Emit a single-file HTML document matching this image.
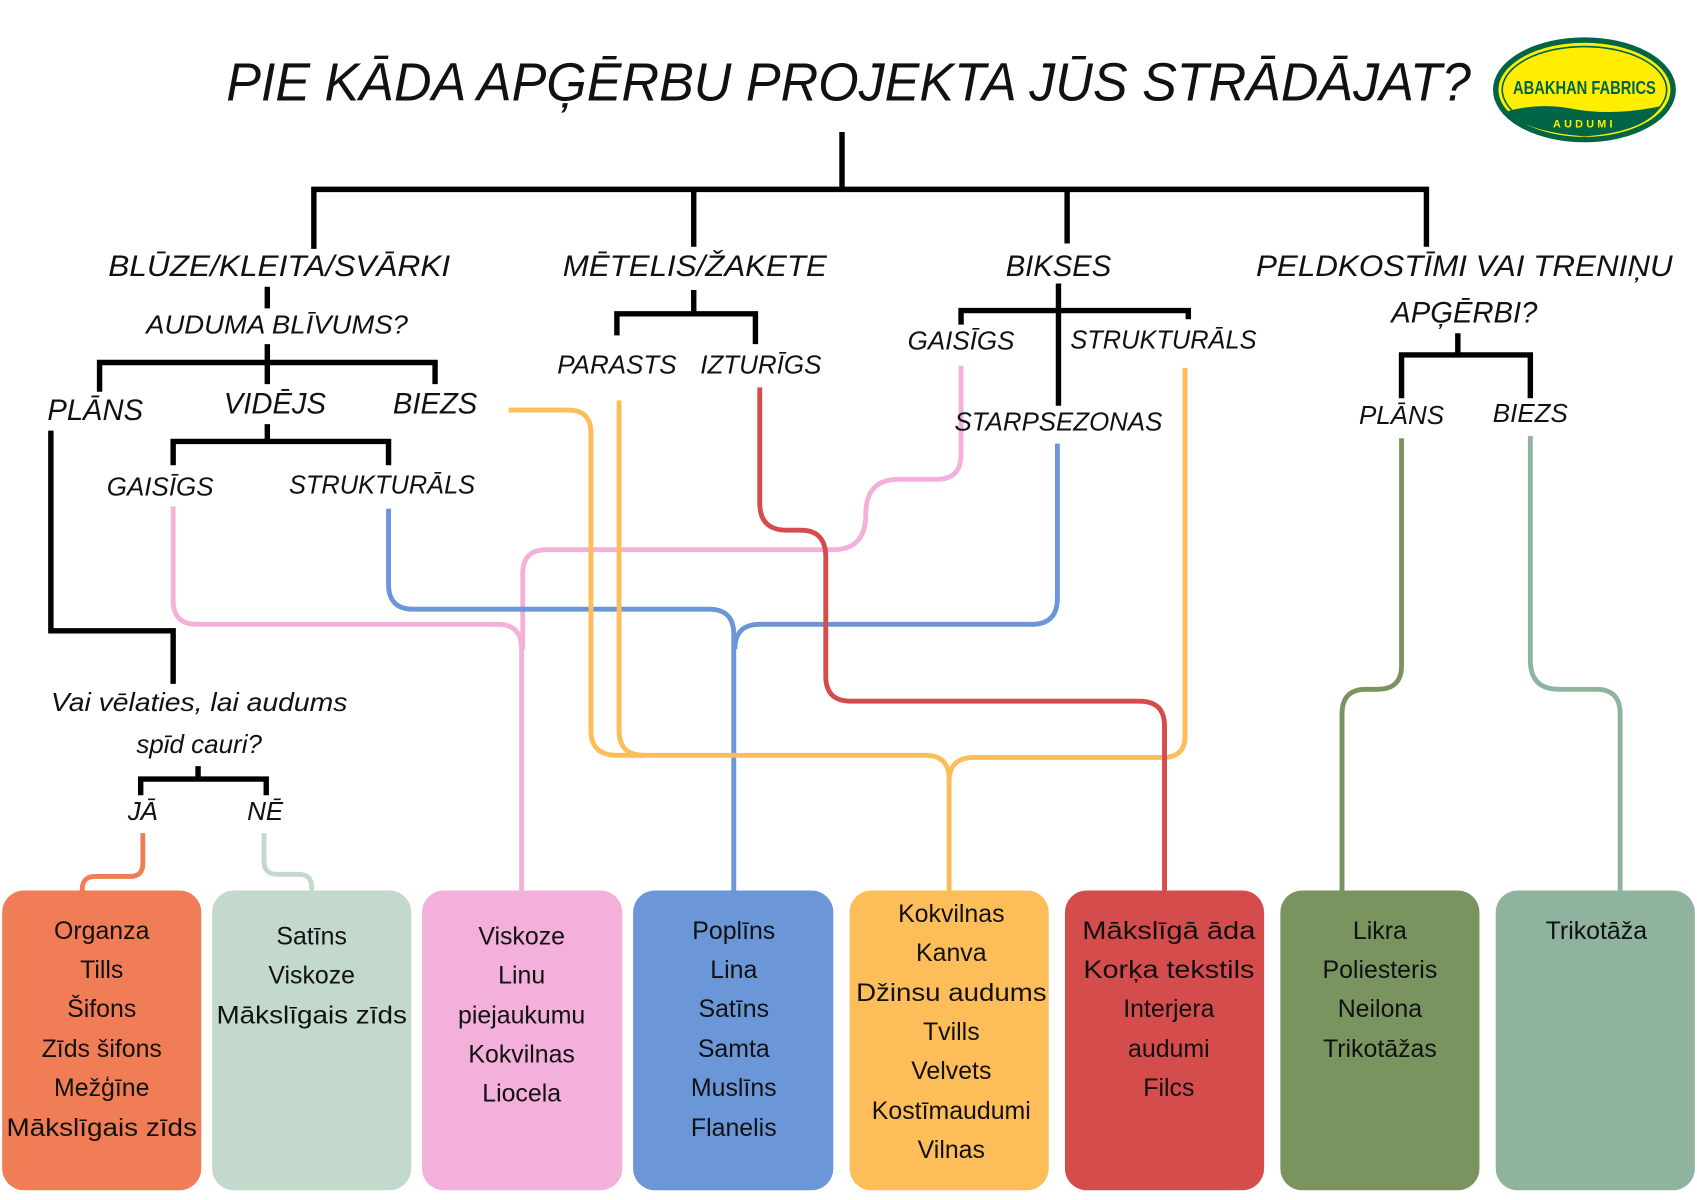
<!DOCTYPE html>
<html><head><meta charset="utf-8"><style>
html,body{margin:0;padding:0;background:#fff;}
svg{display:block;}
.h{font-family:"Liberation Sans",sans-serif;font-style:italic;fill:#111;text-anchor:middle;}
.b{font-family:"Liberation Sans",sans-serif;fill:#111;text-anchor:middle;font-size:23px;}
</style></head><body>
<svg width="1697" height="1200" viewBox="0 0 1568 1109" preserveAspectRatio="none" xmlns="http://www.w3.org/2000/svg">
<rect width="1568" height="1109" fill="#fff"/>
<!-- colored connectors -->
<g fill="none" stroke-width="4.5">
<path stroke="#f07d55" d="M132 770 V798 Q132 810 120 810 H88 Q76 810 76 822 V826"/>
<path stroke="#c2d9cc" d="M244 770 V796 Q244 808 256 808 H276 Q288 808 288 820 V826"/>
<path stroke="#f2b0db" d="M160 468 V555 Q160 577 182 577 H460 Q482 577 482 600 V826"/>
<path stroke="#f2b0db" d="M888 338 V420 Q888 443 865 443 H830 Q800 443 800 475 Q800 508 770 508 H505 Q483 508 483 530 V600"/>
<path stroke="#6b97d9" d="M359 470 V540 Q359 563 382 563 H655 Q678 563 678 586 V826"/>
<path stroke="#6b97d9" d="M977 410 V553 Q977 577 953 577 H702 Q679 577 679 600"/>
<path stroke="#fdbd58" d="M470 379 H525 Q546 379 546 400 V675 Q546 698 570 698 H855 Q877 698 877 720 V826"/>
<path stroke="#fdbd58" d="M572 370 V675 Q572 698 595 698"/>
<path stroke="#fdbd58" d="M1095 340 V680 Q1095 700 1075 700 H900 Q877 700 877 722"/>
<path stroke="#d44c4c" d="M702 358 V465 Q702 490 727 490 H740 Q763 490 763 515 V625 Q763 648 786 648 H1053 Q1076 648 1076 671 V826"/>
<path stroke="#7a9460" d="M1295 405 V615 Q1295 637 1273 637 H1262 Q1240 637 1240 660 V826"/>
<path stroke="#8fb39e" d="M1414 403 V610 Q1414 637 1440 637 H1475 Q1497 637 1497 660 V826"/>
</g>
<!-- black tree -->
<g fill="none" stroke="#000" stroke-width="5">
<path d="M778 122 V175 M290 230 V175 H1318 V228 M641 175 V228 M986 175 V225"/>
<path d="M247 265 V285 M247 318 V335 M92 362 V335 H402 V355 M247 335 V355"/>
<path d="M247 392 V408 M160 430 V408 H359 V430"/>
<path d="M47 398 V583 H160 V632"/>
<path d="M183 708 V720 M130 735 V720 H246 V735"/>
<path d="M641 268 V290 M570 310 V290 H698 V318"/>
<path d="M978 262 V375 M888 300 V287 H1098 V295"/>
<path d="M1347 308 V328 M1295 368 V328 H1414 V368"/>
</g>
<!-- title -->
<text class="h" x="784" y="93" font-size="50" textLength="1150" lengthAdjust="spacingAndGlyphs">PIE KĀDA APĢĒRBU PROJEKTA JŪS STRĀDĀJAT?</text>
<!-- logo -->
<ellipse cx="1464" cy="83" rx="82" ry="46" fill="#ffee00" stroke="#006446" stroke-width="5"/>
<ellipse cx="1464" cy="83" rx="76" ry="40" fill="none" stroke="#006446" stroke-width="1.5"/>
<path d="M1392 103 Q1420 95 1450 100 Q1490 108 1535 98 Q1520 122 1464 126 Q1410 122 1392 103 Z" fill="#006446"/>
<text x="1464" y="87" font-family="Liberation Sans,sans-serif" font-weight="bold" font-size="17" fill="#006446" text-anchor="middle" textLength="132" lengthAdjust="spacingAndGlyphs">ABAKHAN FABRICS</text>
<text x="1464" y="118" font-family="Liberation Sans,sans-serif" font-weight="bold" font-size="10" fill="#ffee00" text-anchor="middle" letter-spacing="3">AUDUMI</text>
<!-- labels -->
<g class="h" font-size="27">
<text x="258" y="255" textLength="316" lengthAdjust="spacingAndGlyphs">BLŪZE/KLEITA/SVĀRKI</text>
<text x="642" y="255" textLength="244" lengthAdjust="spacingAndGlyphs">MĒTELIS/ŽAKETE</text>
<text x="978" y="255">BIKSES</text>
<text x="1353" y="255" textLength="385" lengthAdjust="spacingAndGlyphs">PELDKOSTĪMI VAI TRENIŅU</text>
<text x="1353" y="298">APĢĒRBI?</text>
<text x="88" y="388">PLĀNS</text>
<text x="254" y="382">VIDĒJS</text>
<text x="402" y="382">BIEZS</text>
</g>
<g class="h" font-size="24">
<text x="256" y="308" textLength="242" lengthAdjust="spacingAndGlyphs">AUDUMA BLĪVUMS?</text>
<text x="148" y="458">GAISĪGS</text>
<text x="353" y="456" textLength="172" lengthAdjust="spacingAndGlyphs">STRUKTURĀLS</text>
<text x="570" y="345">PARASTS</text>
<text x="703" y="345">IZTURĪGS</text>
<text x="888" y="323">GAISĪGS</text>
<text x="1075" y="322" textLength="172" lengthAdjust="spacingAndGlyphs">STRUKTURĀLS</text>
<text x="978" y="398" textLength="192" lengthAdjust="spacingAndGlyphs">STARPSEZONAS</text>
<text x="1295" y="392">PLĀNS</text>
<text x="1414" y="390">BIEZS</text>
<text x="132" y="758">JĀ</text>
<text x="245" y="758">NĒ</text>
<text x="184" y="657" textLength="274" lengthAdjust="spacingAndGlyphs" style="text-transform:none">Vai vēlaties, lai audums</text>
<text x="184" y="696">spīd cauri?</text>
</g>
<!-- boxes -->
<rect x="2" y="823" width="184" height="277" rx="20" fill="#f07d55"/>
<rect x="196" y="823" width="184" height="277" rx="20" fill="#c2d9cc"/>
<rect x="390" y="823" width="185" height="277" rx="20" fill="#f2b0db"/>
<rect x="585" y="823" width="185" height="277" rx="20" fill="#6b97d9"/>
<rect x="785" y="823" width="184" height="277" rx="20" fill="#fdbd58"/>
<rect x="984" y="823" width="184" height="277" rx="20" fill="#d44c4c"/>
<rect x="1183" y="823" width="184" height="277" rx="20" fill="#7a9460"/>
<rect x="1382" y="823" width="184" height="277" rx="20" fill="#8fb39e"/>
<g class="b">
<text x="94" y="868">Organza</text><text x="94" y="904">Tills</text><text x="94" y="940">Šifons</text><text x="94" y="977">Zīds šifons</text><text x="94" y="1013">Mežģīne</text><text x="94" y="1050" textLength="176" lengthAdjust="spacingAndGlyphs">Mākslīgais zīds</text>
<text x="288" y="873">Satīns</text><text x="288" y="909">Viskoze</text><text x="288" y="946" textLength="176" lengthAdjust="spacingAndGlyphs">Mākslīgais zīds</text>
<text x="482" y="873">Viskoze</text><text x="482" y="909">Linu</text><text x="482" y="946">piejaukumu</text><text x="482" y="982">Kokvilnas</text><text x="482" y="1018">Liocela</text>
<text x="678" y="868">Poplīns</text><text x="678" y="904">Lina</text><text x="678" y="940">Satīns</text><text x="678" y="977">Samta</text><text x="678" y="1013">Muslīns</text><text x="678" y="1050">Flanelis</text>
<text x="879" y="852">Kokvilnas</text><text x="879" y="888">Kanva</text><text x="879" y="925" textLength="176" lengthAdjust="spacingAndGlyphs">Džinsu audums</text><text x="879" y="961">Tvills</text><text x="879" y="997">Velvets</text><text x="879" y="1034">Kostīmaudumi</text><text x="879" y="1070">Vilnas</text>
<text x="1080" y="868" textLength="160" lengthAdjust="spacingAndGlyphs">Mākslīgā āda</text><text x="1080" y="904" textLength="158" lengthAdjust="spacingAndGlyphs">Korķa tekstils</text><text x="1080" y="940">Interjera</text><text x="1080" y="977">audumi</text><text x="1080" y="1013">Filcs</text>
<text x="1275" y="868">Likra</text><text x="1275" y="904">Poliesteris</text><text x="1275" y="940">Neilona</text><text x="1275" y="977">Trikotāžas</text>
<text x="1475" y="868">Trikotāža</text>
</g>
</svg>
</body></html>
